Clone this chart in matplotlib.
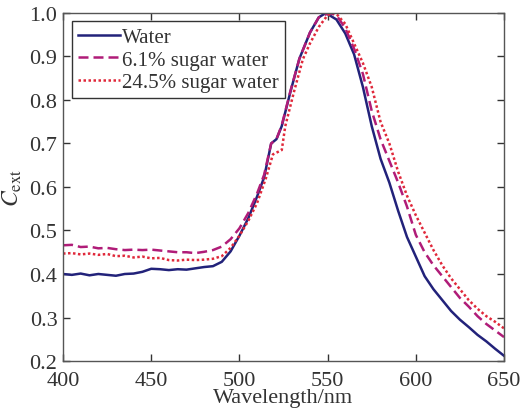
import matplotlib
matplotlib.use("Agg")
import matplotlib.pyplot as plt

# ---- data ----
wl_water = [400, 405, 410, 415, 420, 425, 430, 435, 440, 445, 450, 455, 460, 465, 470, 475, 480, 485, 490,
            495, 500, 505, 510, 514, 518, 521, 524, 529, 534, 540, 545, 549, 555, 560, 565, 570, 575, 580,
            585, 590, 595, 600, 605, 610, 615, 620, 625, 630, 635, 640, 645, 650]
c_water = [0.400, 0.398, 0.401, 0.397, 0.400, 0.398, 0.396, 0.400, 0.401, 0.405, 0.412, 0.411, 0.409, 0.411,
           0.410, 0.413, 0.416, 0.418, 0.428,
           0.452, 0.488, 0.528, 0.578, 0.622, 0.700, 0.710, 0.740, 0.820, 0.895, 0.955, 0.990, 1.000, 0.985,
           0.953, 0.905, 0.830, 0.740, 0.665, 0.610, 0.545, 0.485, 0.440, 0.395, 0.365, 0.340, 0.315,
           0.295, 0.278, 0.260, 0.245, 0.228, 0.212]

wl_sugar6 = [400, 405, 410, 415, 420, 425, 430, 435, 440, 445, 450, 455, 460, 465, 470, 475, 480, 485, 490,
             495, 500, 505, 510, 514, 518, 521, 524, 529, 534, 540, 545, 551, 555, 560, 565, 570, 575, 580,
             585, 590, 595, 600, 605, 610, 615, 620, 625, 630, 635, 640, 645, 650]
c_sugar6 = [0.466, 0.467, 0.462, 0.463, 0.459, 0.460, 0.457, 0.455, 0.456, 0.455, 0.456, 0.454, 0.452, 0.450,
            0.450, 0.448, 0.451, 0.455, 0.463,
            0.480, 0.505, 0.540, 0.585, 0.628, 0.700, 0.710, 0.742, 0.822, 0.895, 0.955, 0.990, 1.000, 0.995,
            0.965, 0.918, 0.860, 0.775, 0.710, 0.660, 0.610, 0.555, 0.490, 0.450, 0.420, 0.395, 0.370,
            0.345, 0.325, 0.303, 0.285, 0.270, 0.255]

wl_sugar24 = [400, 405, 410, 415, 420, 425, 430, 435, 440, 445, 450, 455, 460, 465, 470, 475, 480, 485, 490,
              495, 500, 505, 510, 515, 519, 524, 526, 531, 536, 540, 545, 550, 553, 555, 560, 565, 570, 575,
              580, 585, 590, 595, 600, 605, 610, 615, 620, 625, 630, 635, 640, 645, 650]
c_sugar24 = [0.447, 0.448, 0.445, 0.447, 0.444, 0.446, 0.441, 0.442, 0.438, 0.440, 0.436, 0.437, 0.432, 0.431,
             0.433, 0.432, 0.433, 0.435, 0.441,
             0.460, 0.488, 0.522, 0.563, 0.620, 0.675, 0.685, 0.740, 0.820, 0.894, 0.930, 0.968, 0.995, 1.000,
             0.998, 0.975, 0.930, 0.885, 0.830, 0.750, 0.700, 0.635, 0.580, 0.535, 0.495, 0.455, 0.420,
             0.390, 0.365, 0.340, 0.320, 0.303, 0.290, 0.275]

labels = ["Water", "6.1% sugar water", "24.5% sugar water"]
x_ticks = [400, 450, 500, 550, 600, 650]
y_ticks = [0.2, 0.3, 0.4, 0.5, 0.6, 0.7, 0.8, 0.9, 1.0]

# ---- style ----
plt.rcParams['font.family'] = ['Liberation Serif', 'DejaVu Serif']
plt.rcParams['mathtext.fontset'] = 'stix'

fig = plt.figure(figsize=(5.23, 4.14), dpi=100)
ax = fig.add_axes([0.1205, 0.1256, 0.8432, 0.8406])

ax.plot(wl_water, c_water, color='#22227a', lw=1.8, ls='-', label=labels[0])
ax.plot(wl_sugar6, c_sugar6, color='#b01c78', lw=1.8, ls=(0, (4, 2)), label=labels[1])
ax.plot(wl_sugar24, c_sugar24, color='#e0283a', lw=1.8, ls=(0, (1, 1)), label=labels[2])

ax.set_xlim(400, 650)
ax.set_ylim(0.2, 1.0)
ax.set_xticks(x_ticks)
ax.set_yticks(y_ticks)
ax.set_yticklabels([f"{v:.1f}" for v in y_ticks])
ax.tick_params(direction='in', length=5, width=1, top=True, right=True,
               labelsize=16, colors='#333333')
ax.tick_params(axis='x', pad=7)
ax.tick_params(axis='y', pad=4)
for s in ax.spines.values():
    s.set_color('#555555')
    s.set_linewidth(1.0)

ax.set_xlabel("Wavelength/nm", fontsize=16, color='#333333', labelpad=-1)
ax.set_ylabel(r"$C_{\mathrm{ext}}$", fontsize=17, color='#333333', labelpad=4)

leg = ax.legend(loc='upper left', bbox_to_anchor=(0.02, 0.977), borderaxespad=0,
                fontsize=15, handlelength=2.0, handletextpad=0.1, labelspacing=0.15,
                borderpad=0.3, fancybox=False, framealpha=1, edgecolor='#333333')
leg.get_frame().set_linewidth(1.0)
for t in leg.get_texts():
    t.set_color('#333333')

fig.savefig("out.png", dpi=100)
